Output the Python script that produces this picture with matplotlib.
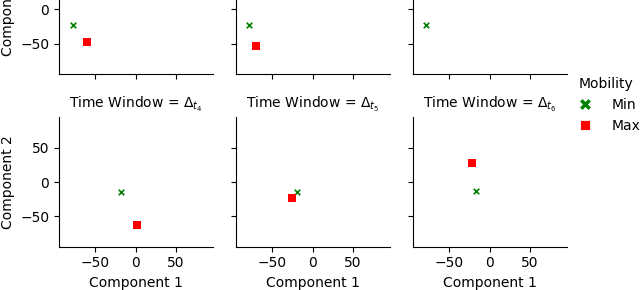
import matplotlib
matplotlib.use("Agg")
import matplotlib.pyplot as plt
from matplotlib.lines import Line2D

# one entry per time window t1..t6 (top row is cut off in the reference)
windows = [1, 2, 3, 4, 5, 6]
min_x = [-78, -79, -79, -18, -19, -17]
min_y = [-23, -23, -23, -14, -14, -13]
max_x = [-60, -70, -70, 2, -25, -22]
max_y = [-47, -53, 40, -63, -23, 28]

xlim = (-95, 96)
ylim = (-94, 95)

fig = plt.figure(figsize=(6.4, 2.9), dpi=100)

lefts = [59 / 640, 236 / 640, 413 / 640]
w = 154 / 640
h = 130 / 290
bottoms = [(290 - 74) / 290, (290 - 246.7) / 290]

axes = []
for i, t in enumerate(windows):
    row, col = divmod(i, 3)
    ax = fig.add_axes([lefts[col], bottoms[row], w, h])
    ax.scatter(min_x[i], min_y[i], marker="x", color="green", s=16, linewidths=1.2, zorder=3)
    ax.scatter(max_x[i], max_y[i], marker="s", color="red", s=40, linewidths=0, zorder=3)
    ax.set_xlim(xlim)
    ax.set_ylim(ylim)
    ax.set_xticks([-50, 0, 50])
    ax.set_yticks([-50, 0, 50])
    ax.spines["top"].set_visible(False)
    ax.spines["right"].set_visible(False)
    ax.tick_params(labelsize=10, length=3.5)
    ax.set_title(r"Time Window = $\Delta_{t_%d}$" % t, fontsize=10)
    if col == 0:
        ax.set_ylabel("Component 2", fontsize=10)
    else:
        ax.tick_params(labelleft=False)
    if row == 1:
        ax.set_xlabel("Component 1", fontsize=10)
    else:
        ax.tick_params(labelbottom=False)
    axes.append(ax)

handles = [
    Line2D([], [], linestyle="", marker="X", color="green", markeredgecolor="white",
           markeredgewidth=0.6, markersize=8),
    Line2D([], [], linestyle="", marker="s", color="red", markeredgecolor="white",
           markeredgewidth=0.6, markersize=7),
]
fig.legend(handles, ["Min", "Max"], title="Mobility", loc="upper left",
           bbox_to_anchor=(571 / 640, 1 - 77 / 290), frameon=False,
           borderaxespad=0, borderpad=0,
           fontsize=10, title_fontsize=10, handletextpad=0.9, labelspacing=0.5)

fig.savefig("out.png", dpi=100)
